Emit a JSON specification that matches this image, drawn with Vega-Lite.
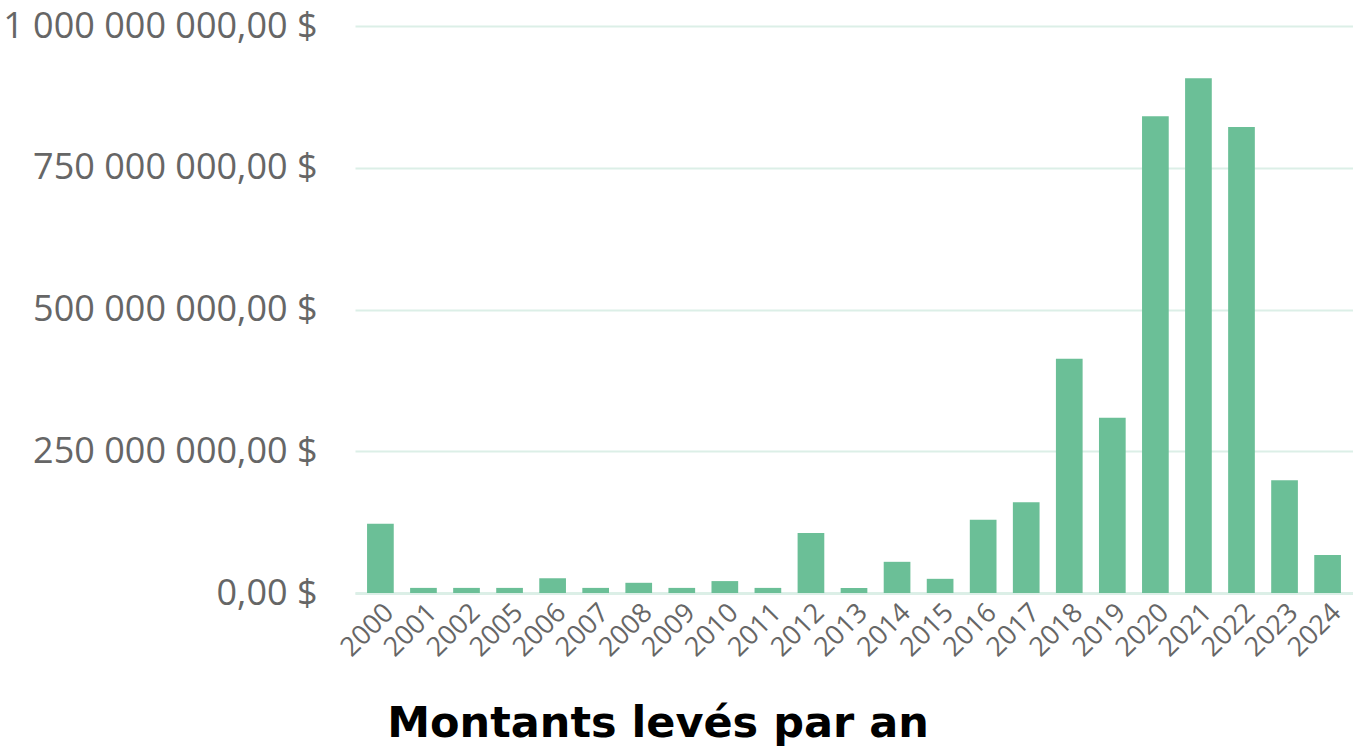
{
  "$schema": "https://vega.github.io/schema/vega-lite/v6.json",
  "width": 998,
  "height": 567,
  "autosize": {"type": "none"},
  "padding": {"left": 355, "top": 26, "right": 0, "bottom": 158},
  "background": "white",
  "data": {
    "values": [
      {"year": "2000", "amount": 122000000},
      {"year": "2001", "amount": 9000000},
      {"year": "2002", "amount": 9000000},
      {"year": "2005", "amount": 9000000},
      {"year": "2006", "amount": 26000000},
      {"year": "2007", "amount": 9000000},
      {"year": "2008", "amount": 18000000},
      {"year": "2009", "amount": 9000000},
      {"year": "2010", "amount": 21000000},
      {"year": "2011", "amount": 9000000},
      {"year": "2012", "amount": 106000000},
      {"year": "2013", "amount": 9000000},
      {"year": "2014", "amount": 55000000},
      {"year": "2015", "amount": 25000000},
      {"year": "2016", "amount": 129000000},
      {"year": "2017", "amount": 160000000},
      {"year": "2018", "amount": 413000000},
      {"year": "2019", "amount": 309000000},
      {"year": "2020", "amount": 841000000},
      {"year": "2021", "amount": 908000000},
      {"year": "2022", "amount": 822000000},
      {"year": "2023", "amount": 199000000},
      {"year": "2024", "amount": 67000000}
    ]
  },
  "title": {
    "text": "Montants levés par an",
    "orient": "bottom",
    "anchor": "middle",
    "frame": "group",
    "dx": -196,
    "offset": 42,
    "font": "DejaVu Sans",
    "fontSize": 43,
    "fontWeight": "bold",
    "color": "#000000"
  },
  "mark": {"type": "bar", "color": "#6bbf97"},
  "encoding": {
    "x": {
      "field": "year",
      "type": "ordinal",
      "scale": {"paddingInner": 0.38, "paddingOuter": 0.28},
      "axis": {
        "title": null,
        "labelAngle": -45,
        "labelFont": "Open Sans",
        "labelFontSize": 27,
        "labelColor": "#666666",
        "ticks": false,
        "labelPadding": 6,
        "domainColor": "#dcefe7",
        "domainWidth": 3
      }
    },
    "y": {
      "field": "amount",
      "type": "quantitative",
      "scale": {"domain": [0, 1000000000]},
      "axis": {
        "title": null,
        "values": [0, 250000000, 500000000, 750000000, 1000000000],
        "format": "$,.2f",
        "labelFont": "Open Sans",
        "labelFontSize": 36,
        "labelColor": "#666666",
        "labelPadding": 38,
        "labelLimit": 0,
        "ticks": false,
        "domain": false,
        "gridColor": "#dcefe7",
        "gridWidth": 2
      }
    }
  },
  "config": {
    "view": {"stroke": null},
    "locale": {
      "number": {
        "decimal": ",",
        "thousands": " ",
        "grouping": [3],
        "currency": ["", " $"]
      }
    }
  }
}
